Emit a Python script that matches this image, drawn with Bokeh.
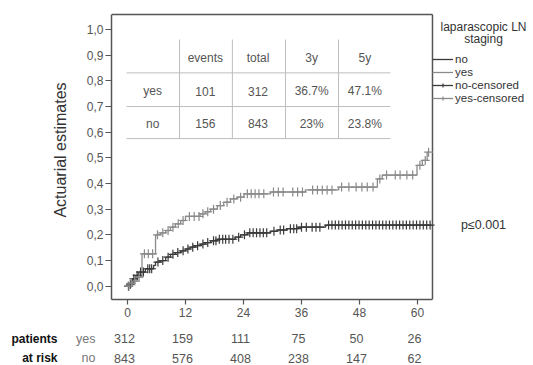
import bisect
from bokeh.plotting import figure
from bokeh.layouts import column
from bokeh.models import (ColumnDataSource, Label, Legend, LegendItem, FixedTicker,
                          CustomJSTickFormatter, Range1d, LinearAxis)
from bokeh.core.properties import value
from bokeh.embed import file_html
from bokeh.resources import INLINE

# ---------------- data ----------------
yes_t = [0, 0.5, 1.2, 2.0, 3.0, 5.8, 6.8, 7.9, 8.9, 9.9, 11.0, 12.0, 15.0, 16.1, 17.2, 18.6,
         19.9, 21.3, 22.7, 24.1, 29.6, 36.8, 43.7, 51.7, 52.7, 59.9, 61.0, 62.0]
yes_v = [0, 0.012, 0.02, 0.035, 0.126, 0.20, 0.208, 0.217, 0.23, 0.243, 0.256, 0.272, 0.282, 0.29,
         0.30, 0.314, 0.327, 0.34, 0.347, 0.36, 0.367, 0.375, 0.386, 0.418, 0.433, 0.471, 0.49, 0.522]
yes_end = 62.4

no_t = [0, 0.3, 0.7, 1.0, 1.7, 2.3, 3.7, 5.4, 5.8, 6.8, 7.9, 8.9, 9.9, 11.0, 12.0, 13.0, 14.0,
        15.1, 16.1, 17.2, 18.6, 22.3, 23.4, 24.8, 29.6, 31.0, 33.0, 35.4, 41.0]
no_v = [0, 0.008, 0.016, 0.029, 0.042, 0.055, 0.068, 0.081, 0.094, 0.10, 0.113, 0.124, 0.131, 0.138,
        0.145, 0.152, 0.158, 0.164, 0.17, 0.177, 0.183, 0.191, 0.20, 0.208, 0.214, 0.219, 0.224, 0.23, 0.238]
no_end = 62.9

yes_cens = [0.3, 0.8, 1.5, 2.4, 3.5, 4.3, 5.2, 6.2, 7.3, 8.4, 9.4, 10.5, 11.5, 12.8, 13.8, 14.8,
            15.6, 16.6, 17.8, 19.2, 20.6, 22.0, 23.4, 24.8, 25.6, 26.4, 27.2, 28.2, 30.2, 31.2,
            32.2, 34.2, 35.2, 36.2, 38.3, 39.3, 40.3, 41.3, 42.3, 44.3, 45.8, 47.3, 48.5, 49.6,
            50.8, 52.2, 53.6, 55.4, 56.4, 57.8, 59.0, 60.5, 61.6, 62.3]
no_cens = [0.2, 0.6, 1.3, 2.0, 2.7, 3.3, 4.2, 4.6, 5.0, 6.3, 7.3, 8.4, 9.4, 10.4, 11.5, 12.5,
           13.5, 14.5, 15.6, 16.6, 17.8, 18.3, 19.0, 19.7, 20.3, 21.0, 21.8, 23.0, 24.2, 25.3,
           26.0, 26.7, 27.4, 28.1, 28.8, 30.3, 31.6, 32.3, 33.7, 34.4, 35.0, 36.0, 37.0, 38.2,
           39.0, 39.8, 41.6, 42.3, 43.0, 43.7, 44.4, 45.1, 45.8, 46.5, 47.2, 47.9, 48.6, 49.3,
           50.0, 50.7, 51.4, 52.1, 52.8, 53.5, 54.2, 54.9, 55.6, 56.3, 57.0, 57.7, 58.4, 59.1,
           59.8, 60.5, 61.2, 61.9, 62.6]

x_ticks = [0, 12, 24, 36, 48, 60]
y_ticks = [0.0, 0.1, 0.2, 0.3, 0.4, 0.5, 0.6, 0.7, 0.8, 0.9, 1.0]
risk_groups = ["yes", "no"]
risk_yes = [312, 159, 111, 75, 50, 26]
risk_no = [843, 576, 408, 238, 147, 62]
risk_title = ["patients", "at risk"]

table_header = ["", "events", "total", "3y", "5y"]
table_yes = ["yes", "101", "312", "36.7%", "47.1%"]
table_no = ["no", "156", "843", "23%", "23.8%"]
legend_title = ["laparascopic LN", "staging"]
legend_labels = ["no", "yes", "no-censored", "yes-censored"]
p_text = "p\u22640.001"

# ---------------- styles / layout ----------------
FONT = "Liberation Sans"
TXT = "#555555"
YES_C = "#8a8a8a"
NO_C = "#3a3a3a"
FRAME_C = "#555555"

X_START, X_END = -3.31, 84.0          # frame spans the whole area right of the y axis
Y_START, Y_END = -0.0518, 1.113
BOX_R, BOX_T = 63.1, 1.0585           # plot box (right / top edge)

p = figure(width=533, height=324, x_range=Range1d(X_START, X_END), y_range=Range1d(Y_START, Y_END),
           output_backend="svg", toolbar_location=None,
           min_border_left=111, min_border_right=0, min_border_top=0, min_border_bottom=25)
p.xgrid.visible = False
p.ygrid.visible = False
p.outline_line_color = None
p.background_fill_color = "white"
p.border_fill_color = "white"

for ax in (p.xaxis[0], p.yaxis[0]):
    ax.axis_line_color = FRAME_C
    ax.axis_line_width = 1.5
    ax.major_tick_line_color = FRAME_C
    ax.major_tick_line_width = 1.2
    ax.major_tick_in = 0
    ax.minor_tick_line_color = None
    ax.major_label_text_font = FONT
    ax.major_label_text_font_size = "12px"
    ax.major_label_text_color = TXT

p.xaxis.ticker = FixedTicker(ticks=x_ticks)
p.xaxis.bounds = (X_START, BOX_R)
p.xaxis.major_tick_out = 5
p.xaxis.major_label_standoff = 3
p.yaxis.ticker = FixedTicker(ticks=y_ticks)
p.yaxis.bounds = (Y_START, BOX_T)
p.yaxis.major_tick_out = 6
p.yaxis.formatter = CustomJSTickFormatter(code="return tick.toFixed(1).replace('.', ',');")
p.yaxis.major_label_standoff = 2
p.yaxis.axis_label = "Actuarial estimates"
p.yaxis.axis_label_text_font = FONT
p.yaxis.axis_label_text_font_style = "normal"
p.yaxis.axis_label_text_font_size = "16px"
p.yaxis.axis_label_text_color = "#333333"
p.yaxis.axis_label_standoff = 15

# top and right edges of the plot box
p.segment(x0=[X_START, BOX_R], y0=[BOX_T, Y_START], x1=[BOX_R, BOX_R], y1=[BOX_T, BOX_T],
          line_color=FRAME_C, line_width=1.5)


def step_at(ts, vs, t):
    i = bisect.bisect_right(ts, t) - 1
    return vs[max(i, 0)]

# curves
yes_src = ColumnDataSource(dict(x=yes_t + [yes_end], y=yes_v + [yes_v[-1]]))
no_src = ColumnDataSource(dict(x=no_t + [no_end], y=no_v + [no_v[-1]]))
r_no = p.step("x", "y", source=no_src, mode="after", line_color=NO_C, line_width=1.3)
r_yes = p.step("x", "y", source=yes_src, mode="after", line_color=YES_C, line_width=1.3)

no_c_src = ColumnDataSource(dict(x=no_cens, y=[step_at(no_t, no_v, t) for t in no_cens]))
yes_c_src = ColumnDataSource(dict(x=yes_cens, y=[step_at(yes_t, yes_v, t) for t in yes_cens]))
r_noc = p.scatter("x", "y", source=no_c_src, marker="cross", size=9, line_color=NO_C, line_width=1.2)
r_yesc = p.scatter("x", "y", source=yes_c_src, marker="cross", size=9, line_color=YES_C, line_width=1.2)

# summary table inside the plot box
T_X0, T_X1 = -0.2, 54.4
T_HY = [0.831, 0.700, 0.575]
T_VX = [10.76, 21.7, 32.7, 43.66]
T_VY0, T_VY1 = 0.575, 0.961
T_COLX = [5.2, 16.1, 27.0, 38.1, 49.1]
T_ROWY = [0.890, 0.760, 0.633]
p.segment(x0=[T_X0] * 3, x1=[T_X1] * 3, y0=T_HY, y1=T_HY, line_color="#bdbdbd", line_width=1)
p.segment(x0=T_VX, x1=T_VX, y0=[T_VY0] * 4, y1=[T_VY1] * 4, line_color="#bdbdbd", line_width=1)
tx, ty, tt = [], [], []
for row, yy in zip([table_header, table_yes, table_no], T_ROWY):
    for cell, xx in zip(row, T_COLX):
        tx.append(xx); ty.append(yy); tt.append(cell)
p.text(x=tx, y=ty, text=tt, text_align="center", text_baseline="middle",
       text_font=value(FONT), text_font_size="12px", text_color=TXT)

# legend (right of the box): one single-item legend per row for tight row pitch
LEG_BOTTOMS = [234, 221, 208, 195]     # screen px above frame bottom
for lab, rends, yb in zip(legend_labels,
                          [[r_no], [r_yes], [r_no, r_noc], [r_yes, r_yesc]], LEG_BOTTOMS):
    leg = Legend(items=[LegendItem(label=lab, renderers=rends)], location=(321, yb),
                 padding=0, margin=0, spacing=0, glyph_width=21, glyph_height=10,
                 label_height=10, label_standoff=2, label_text_font=FONT,
                 label_text_font_size="11.5px", label_text_color="#333333",
                 border_line_alpha=0, background_fill_alpha=0)
    p.add_layout(leg)

for txt, yy in zip(legend_title, [273, 261]):
    p.add_layout(Label(x=372, y=yy, x_units="screen", y_units="screen", text=txt,
                       text_align="center", text_baseline="middle", text_font=FONT,
                       text_font_size="12px", text_color="#333333"))

p.add_layout(Label(x=372, y=75, x_units="screen", y_units="screen", text=p_text,
                   text_align="center", text_baseline="middle", text_font=FONT,
                   text_font_size="12.5px", text_color="#333333"))

# ---------------- patients at risk (second strip, same month scale) ----------------
ROW_Y = [27, 7.5]
p2 = figure(width=533, height=41, x_range=p.x_range, y_range=Range1d(0, 41),
            output_backend="svg", toolbar_location=None, x_axis_location=None,
            min_border_left=111, min_border_right=0, min_border_top=0, min_border_bottom=0)
p2.xgrid.visible = False
p2.ygrid.visible = False
p2.outline_line_color = None

ax_grp = p2.yaxis[0]
ax_ttl = LinearAxis()
p2.add_layout(ax_ttl, "left")
for ax, labels, standoff in [(ax_grp, risk_groups, 16), (ax_ttl, risk_title, 16)]:
    ax.ticker = FixedTicker(ticks=ROW_Y)
    ax.major_label_overrides = {ROW_Y[0]: labels[0], ROW_Y[1]: labels[1]}
    ax.axis_line_color = None
    ax.major_tick_line_color = None
    ax.minor_tick_line_color = None
    ax.major_tick_out = 0
    ax.major_tick_in = 0
    ax.major_label_standoff = standoff
    ax.major_label_text_font = FONT
ax_grp.major_label_text_font_size = "12.5px"
ax_grp.major_label_text_color = "#777777"
ax_ttl.major_label_text_font_size = "12px"
ax_ttl.major_label_text_font_style = "bold"
ax_ttl.major_label_text_color = "#111111"

for counts, yy in zip([risk_yes, risk_no], ROW_Y):
    p2.text(x=x_ticks, y=[yy] * len(x_ticks), text=[str(c) for c in counts], x_offset=-3,
            text_align="center", text_baseline="middle",
            text_font=value(FONT), text_font_size="12.5px", text_color=TXT)

layout = column(p, p2, spacing=0)
open("out.html", "w").write(file_html(layout, INLINE))
